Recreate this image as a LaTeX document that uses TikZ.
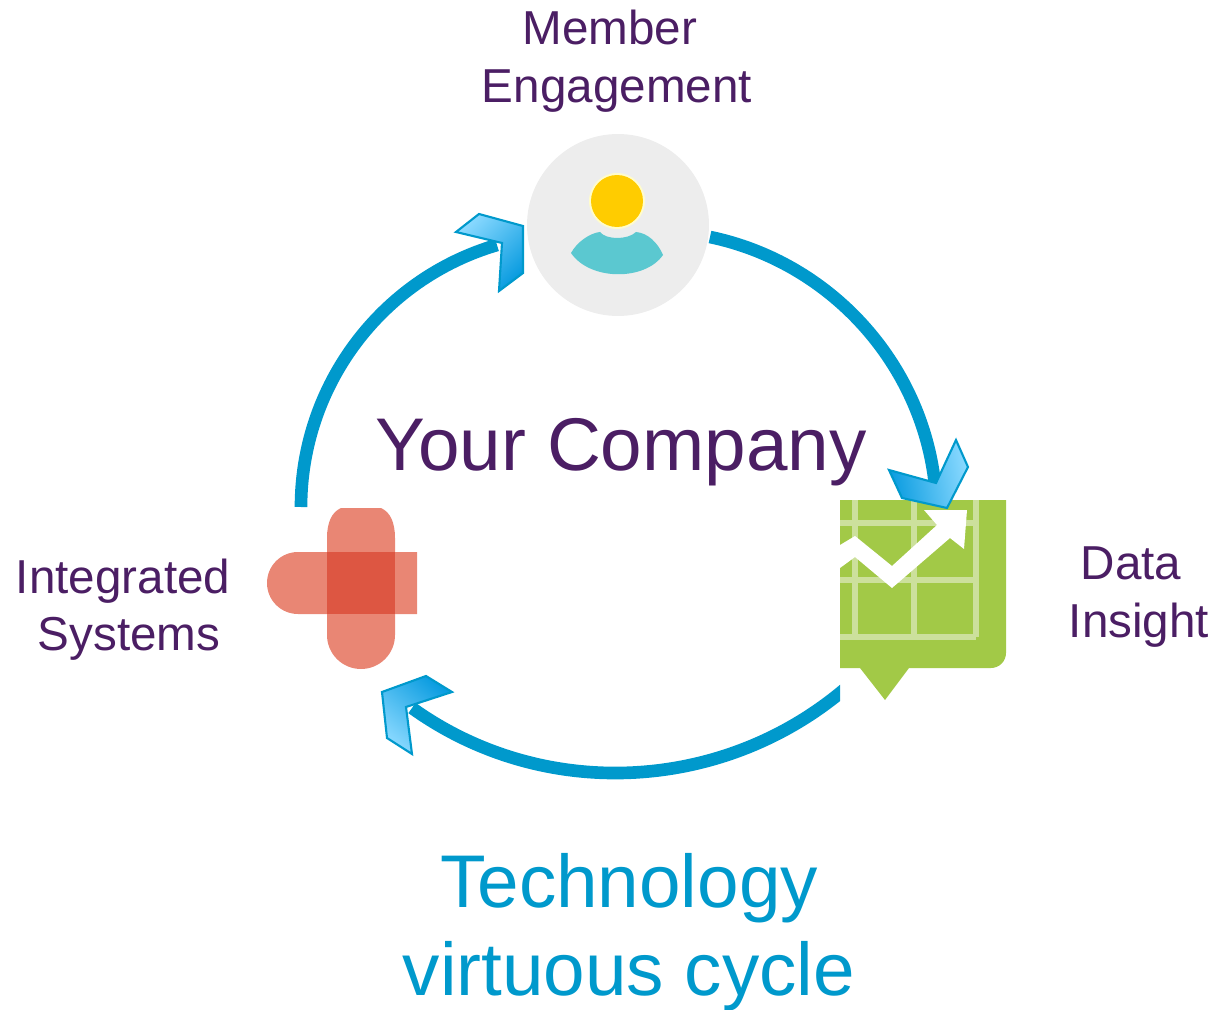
\documentclass[tikz,border=0pt]{standalone}
\usepackage{fontspec}
\setmainfont{Liberation Sans}
\definecolor{cycleblue}{HTML}{0099CC}
\definecolor{headlight}{HTML}{8AD9FF}
\definecolor{headdark}{HTML}{0A9CE0}
\definecolor{labelpurple}{HTML}{4B1E64}
\definecolor{crosslight}{HTML}{E98674}
\definecolor{crossdark}{HTML}{DD5642}
\definecolor{chartgreen}{HTML}{A2C947}
\definecolor{gridgreen}{HTML}{CCE09C}
\definecolor{headyellow}{HTML}{FFCC00}
\definecolor{bodyteal}{HTML}{5BC8D0}
\tikzset{
    cyclearc/.style={line width=7.2pt, cycleblue},
    headshape/.style={draw=cycleblue, line width=1.2pt, left color=headdark, right color=headlight},
    smalllabel/.style={text=labelpurple, font=\fontsize{27.1pt}{30pt}\selectfont},
    biglabel/.style={font=\fontsize{42.5pt}{46pt}\selectfont},
    gridline/.style={line width=3.2pt, gridgreen}
}
\begin{document}
\begin{tikzpicture}[x=0.02cm, y=-0.02cm]
\useasboundingbox (0, 0) rectangle (1228, 1010);

\node[circle, fill=black!7, minimum size=3.64cm, inner sep=0pt, outer sep=0pt] (member) at (618, 225) {};
\coordinate (memberout) at (710, 237);
\coordinate (chartin) at (935, 485);
\coordinate (crossout) at (301, 507);
\coordinate (memberin) at (497, 245);
\coordinate (chartout) at (846, 688);
\coordinate (crossin) at (412, 708);

% chart
\fill[chartgreen]
    (840, 500) -- (1006, 500) [rounded corners=0.3cm] -- (1006, 668) [sharp corners] -- (909, 668) -- (885, 700) -- (860, 668) -- (840, 668) -- cycle;
\draw[gridline] (855, 500) -- (855, 637);
\draw[gridline] (914, 500) -- (914, 637);
\draw[gridline] (976, 500) -- (976, 637);
\draw[gridline] (840, 523) -- (976, 523);
\draw[gridline] (840, 580) -- (976, 580);
\draw[gridline] (840, 637) -- (976, 637);
\fill[white]
    (840, 545) -- (855, 536) -- (892, 566) -- (937, 525) -- (924, 510) -- (967, 510) -- (964, 549) -- (950, 538) -- (892, 588) -- (855, 557) -- (840, 568) -- cycle;

% arcs
\draw[cyclearc]
    (memberout) .. controls (830, 262) and (922, 363) .. (chartin);
\draw[cyclearc]
    (crossout) .. controls (301, 386) and (381, 279) .. (memberin);
\begin{scope}
\clip (380, 660) rectangle (840, 800);
\draw[cyclearc]
    (chartout) .. controls (723, 793) and (543, 802) .. (crossin);
\end{scope}

% arrow heads
\path[headshape, shading angle=100]
    (889, 470) -- (936, 483) -- (956, 440) -- (968, 467) -- (947, 508) -- (902, 498) -- cycle;
\path[headshape, shading angle=320]
    (382, 692) -- (426, 676) -- (452, 692) -- (406, 707) -- (412, 754) -- (387, 738) -- cycle;
\path[headshape, shading angle=225]
    (456, 232) -- (479, 214) -- (523, 226) -- (523, 273) -- (499, 291) -- (502, 243) -- cycle;

% person
\fill[white!80!yellow] (617, 201) circle [radius=0.56cm];
\fill[headyellow] (617, 201) circle [radius=0.52cm];
\fill[bodyteal]
    (571, 253) .. controls (577, 242) and (590, 233) .. (600, 232) .. controls (606, 240) and (628, 240) .. (636, 232) .. controls (648, 233) and (658, 243) .. (663, 255) .. controls (645, 281) and (590, 281) .. (571, 253) -- cycle;

% cross
\fill[crosslight]
    (417, 552) [rounded corners=0.62cm] -- (267, 552) -- (267, 614) [sharp corners] -- (417, 614) -- cycle;
\fill[crosslight]
    (341, 508) .. controls (332, 512) and (327, 522) .. (327, 538) [rounded corners=0.68cm] -- (327, 669) -- (395, 669) [sharp corners] -- (395, 538) .. controls (395, 522) and (390, 512) .. (381, 508) -- cycle;
\fill[crossdark] (327, 552) rectangle (395, 614);

\node[smalllabel] (membertop) at (610, 27) {Member};
\node[smalllabel] (memberbot) at (617, 91) {Engagement};
\node[smalllabel] (datatop) at (1131, 563) {Data};
\node[smalllabel] (databot) at (1139, 625) {Insight};
\node[smalllabel] (systemtop) at (123, 581) {Integrated};
\node[smalllabel] (systembot) at (129, 639) {Systems};
\node[biglabel, text=labelpurple] (company) at (621, 452) {Your Company};
\node[biglabel, text=cycleblue] (cycletop) at (629, 888) {Technology};
\node[biglabel, text=cycleblue] (cyclebot) at (629, 976) {virtuous cycle};
\end{tikzpicture}
\end{document}
